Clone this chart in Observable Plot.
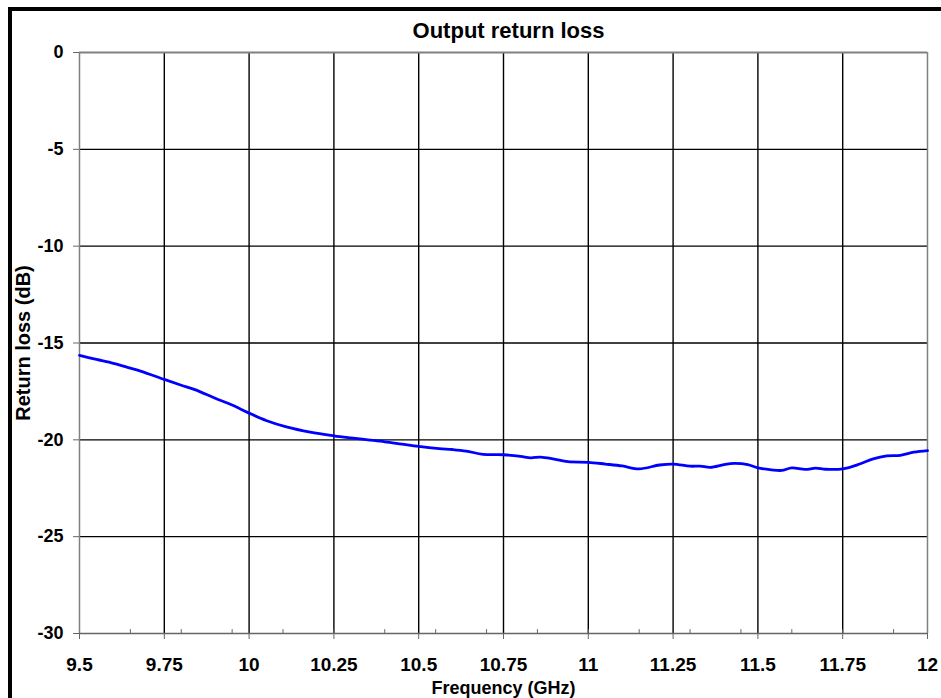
<!DOCTYPE html>
<html>
<head>
<meta charset="utf-8">
<script src="https://cdn.jsdelivr.net/npm/d3@7"></script>
<script src="https://cdn.jsdelivr.net/npm/@observablehq/plot@0.6"></script>
<style>
  html, body { margin: 0; padding: 0; background: #fff; overflow: hidden; }
  #wrap { position: relative; width: 941px; height: 698px; }
  #border { position: absolute; left: 8px; top: 7px; width: 1000px; height: 1000px;
            border: 4.5px solid #000; box-sizing: border-box; pointer-events: none; }
  svg text { font-family: "Liberation Sans", Arial, sans-serif; font-weight: bold; fill: #000; }
</style>
</head>
<body>
<div id="wrap"><div id="border"></div></div>
<script>
const title = "Output return loss";
const xLabel = "Frequency (GHz)";
const yLabel = "Return loss (dB)";

const xTicks = [9.5, 9.75, 10, 10.25, 10.5, 10.75, 11, 11.25, 11.5, 11.75, 12];
const yTicks = [0, -5, -10, -15, -20, -25, -30];
const minorTicks = [9.65, 9.8, 9.95, 10.1, 10.25, 10.4, 10.55, 10.7, 10.85, 11, 11.15, 11.3, 11.45, 11.6, 11.75, 11.9];

const freq = [9.5, 9.55, 9.6, 9.65, 9.68, 9.75, 9.8, 9.84, 9.9, 9.95, 10, 10.05, 10.11, 10.18, 10.25, 10.3, 10.35, 10.4, 10.45, 10.5, 10.56, 10.6, 10.64, 10.69, 10.75, 10.8, 10.83, 10.86, 10.9, 10.94, 11.0, 11.05, 11.1, 11.15, 11.21, 11.25, 11.3, 11.33, 11.36, 11.4, 11.43, 11.47, 11.5, 11.54, 11.57, 11.6, 11.64, 11.67, 11.7, 11.75, 11.8, 11.84, 11.88, 11.92, 11.96, 12.0];
const returnLoss = [-15.64, -15.85, -16.05, -16.3, -16.45, -16.88, -17.18, -17.41, -17.85, -18.2, -18.62, -19.0, -19.33, -19.6, -19.79, -19.9, -20.0, -20.1, -20.22, -20.34, -20.45, -20.5, -20.58, -20.75, -20.77, -20.85, -20.93, -20.89, -21.0, -21.13, -21.16, -21.25, -21.35, -21.5, -21.3, -21.25, -21.36, -21.36, -21.42, -21.28, -21.22, -21.28, -21.45, -21.55, -21.58, -21.45, -21.53, -21.46, -21.52, -21.5, -21.25, -20.98, -20.83, -20.8, -20.64, -20.56];

const data = freq.map((f, i) => ({f, v: returnLoss[i]}));
const interiorX = xTicks.slice(1, -1);
const interiorY = yTicks.filter(d => d !== 0 && d !== -30);

const plot = Plot.plot({
  width: 941,
  height: 698,
  marginLeft: 79,
  marginRight: 14,
  marginTop: 52,
  marginBottom: 65,
  style: {background: "transparent", fontFamily: "Liberation Sans, Arial, sans-serif", overflow: "visible"},
  x: {domain: [9.5, 12]},
  y: {domain: [-30, 0]},
  marks: [
    Plot.gridX(interiorX, {stroke: "#000", strokeOpacity: 1, strokeWidth: 1.4}),
    Plot.gridY(interiorY, {stroke: "#000", strokeOpacity: 1, strokeWidth: 1.4}),
    Plot.ruleY([0], {stroke: "#808080", strokeWidth: 2}),
    Plot.ruleX([9.5, 12], {stroke: "#808080", strokeWidth: 1.5}),
    Plot.ruleX(minorTicks, {y1: -30, y2: -29.8, stroke: "#666", strokeWidth: 1}),
    Plot.ruleY([-30], {stroke: "#666", strokeWidth: 1.5}),
    Plot.axisX(xTicks, {tickSize: 6, tickPadding: 18, stroke: "#666", fontSize: 19, fontWeight: "bold", label: null, tickFormat: d => String(d), style: "letter-spacing:0.5px"}),
    Plot.axisY(yTicks, {tickSize: 6, tickPadding: 10, stroke: "#666", fontSize: 18, fontWeight: "bold", label: null, tickFormat: d => String(d)}),
    Plot.line(data, {x: "f", y: "v", stroke: "#0000ff", strokeWidth: 2.8, curve: "catmull-rom"}),
    Plot.text([title], {frameAnchor: "top", dy: -22, dx: 5, fontSize: 22, fontWeight: "bold", lineAnchor: "middle"}),
    Plot.text([xLabel], {frameAnchor: "bottom", dy: 55, fontSize: 18, fontWeight: "bold", lineAnchor: "middle", style: "letter-spacing:1.2px"}),
    Plot.text([yLabel], {frameAnchor: "left", dx: -56, rotate: -90, textAnchor: "middle", fontSize: 20, fontWeight: "bold", lineAnchor: "middle", style: "letter-spacing:2.2px"})
  ]
});
document.getElementById("wrap").prepend(plot);
</script>
</body>
</html>
